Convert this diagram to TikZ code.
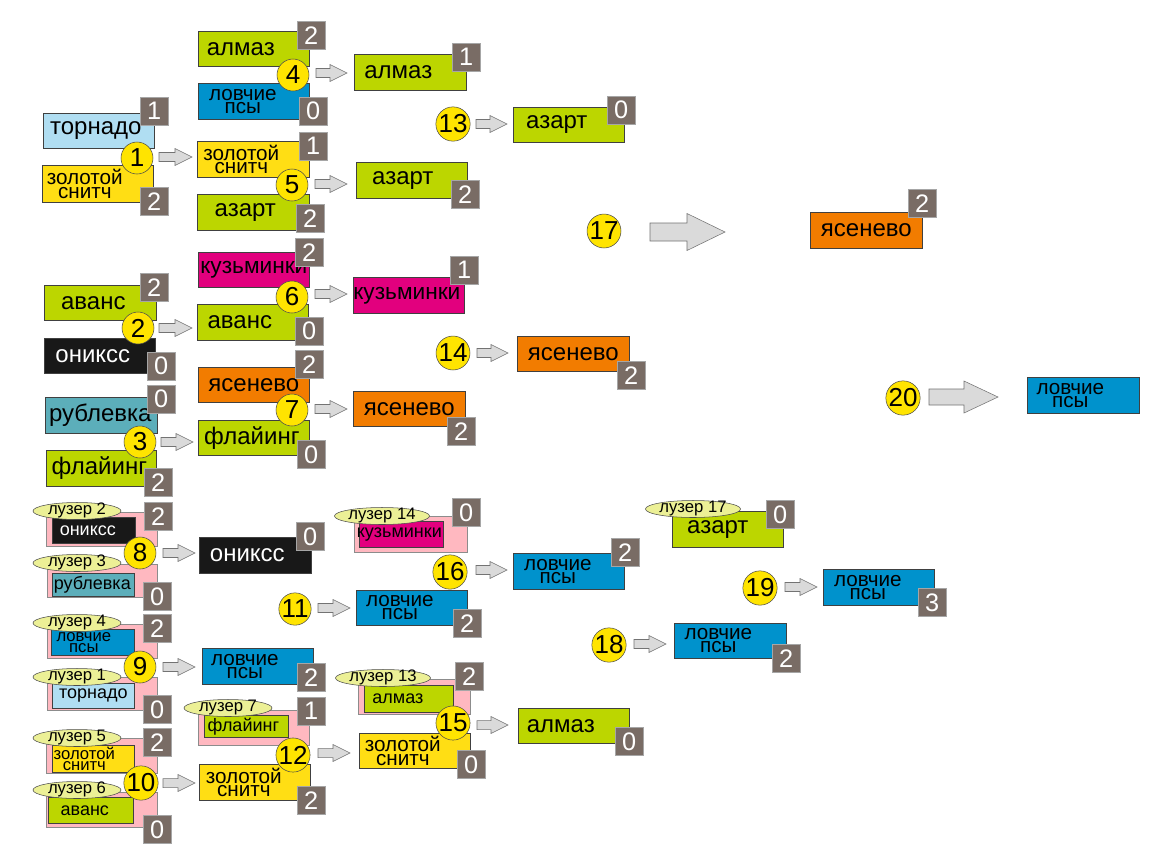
\documentclass[tikz,border=0pt]{standalone}
\usepackage{fontspec}
\setmainfont{Liberation Sans}
\usetikzlibrary{shapes.geometric}
\definecolor{cgreen}{RGB}{188,214,0}
\definecolor{cblue}{RGB}{0,146,204}
\definecolor{clblue}{RGB}{176,222,242}
\definecolor{cyel}{RGB}{255,222,20}
\definecolor{cmag}{RGB}{226,0,126}
\definecolor{corange}{RGB}{242,124,0}
\definecolor{cblack}{RGB}{24,24,24}
\definecolor{cteal}{RGB}{92,174,186}
\definecolor{cscore}{RGB}{121,108,101}
\definecolor{cpink}{RGB}{255,184,192}
\definecolor{cellip}{RGB}{236,240,150}
\definecolor{ccirc}{RGB}{255,228,0}
\definecolor{carrow}{RGB}{218,218,218}
\newcommand\fbig{\fontsize{18}{18}\selectfont}
\newcommand\fmid{\fontsize{17}{17}\selectfont}
\newcommand\ftwo{\fontsize{15.5}{15.5}\selectfont}
\newcommand\fnum{\fontsize{19.5}{19.5}\selectfont}
\newcommand\fsc{\fontsize{19}{19}\selectfont}
\newcommand\fsm{\fontsize{13.5}{13.5}\selectfont}
\newcommand\fsmtwo{\fontsize{12.5}{12.5}\selectfont}
\newcommand\flz{\fontsize{12.5}{12.5}\selectfont}
% two stacked lines with a fixed, tight baseline distance
\newcommand\stk[3]{\vbox{\baselineskip=#1\lineskiplimit=-30pt\lineskip=0pt\halign{\hfil##\hfil\cr#2\cr#3\cr}}}
\newcommand\two[2]{\stk{10pt}{#1}{#2}}
\newcommand\twosm[2]{\stk{8pt}{#1}{#2}}
\tikzset{
 tm/.style={draw=black!75, line width=0.5pt, inner sep=0pt, anchor=north west, font=\fbig},
 tmtwo/.style={font=\ftwo},
 tmmid/.style={font=\fmid},
 sm/.style={font=\fsm},
 smtwo/.style={font=\fsmtwo},
 sh/.style={execute at begin node={\kern-\dimexpr #1pt*3/2\relax}},
 sc/.style={fill=cscore, draw=black!35, line width=0.4pt, text=white, minimum size=21pt, inner sep=0pt, anchor=north west, font=\fsc},
 nm/.style={circle, fill=ccirc, draw=black!70, line width=0.4pt, minimum size=24pt, inner sep=0pt, font=\fnum},
 lz/.style={ellipse, fill=cellip, draw=black!70, line width=0.4pt, minimum width=66pt, minimum height=12.75pt, inner sep=0pt, text height=6.5pt, text depth=2pt, font=\flz},
 pk/.style={fill=cpink, draw=black!45, line width=0.4pt, inner sep=0pt, anchor=north west},
 ar/.style={fill=carrow, draw=black!55, line width=0.4pt},
}
\newcommand\tbox[7]{\node[tm,#6,minimum width={(#4-#2)*0.75pt},minimum height={(#5-#3)*0.75pt}] (#1) at (#2,#3) {#7};}
\newcommand\pinkbg[5]{\node[pk,minimum width={(#4-#2)*0.75pt},minimum height={(#5-#3)*0.75pt}] (#1) at (#2,#3) {};}
\newcommand\scr[4]{\node[sc] (#1) at (#2,#3) {#4};}
\newcommand\rnd[4]{\node[nm] (#1) at (#2,#3) {#4};}
\newcommand\lzr[4]{\node[lz] (#1) at (#2,#3) {#4};}
\newcommand\sarr[4]{\draw[ar] (#2,#4-4.5) -- (#3-17,#4-4.5) -- (#3-17,#4-8.5) -- (#3,#4) -- (#3-17,#4+8.5) -- (#3-17,#4+4.5) -- (#2,#4+4.5) -- cycle; \coordinate (#1) at (#3,#4);}
\newcommand\barr[7]{\draw[ar] (#2,#4-#5) -- (#3-#7,#4-#5) -- (#3-#7,#4-#6) -- (#3,#4) -- (#3-#7,#4+#6) -- (#3-#7,#4+#5) -- (#2,#4+#5) -- cycle; \coordinate (#1) at (#3,#4);}
\begin{document}
\begin{tikzpicture}[x=0.75pt,y=-0.75pt]
\path[fill=white, use as bounding box] (0,0) rectangle (1159,865);
% pink loser backgrounds
\pinkbg{p2}{46}{512}{157}{546}
\pinkbg{p3}{47}{564}{157}{597}
\pinkbg{p4}{47}{624}{157}{658}
\pinkbg{p1}{47}{677}{157}{710}
\pinkbg{p5}{46}{738}{157}{773}
\pinkbg{p6}{46}{792}{157}{827}
\pinkbg{p7}{198}{710}{309}{745}
\pinkbg{p14}{354}{516}{467}{552}
\pinkbg{p13}{358}{679}{470}{714}
% round 1
\tbox{a1}{43}{113}{154}{148}{fill=clblue,sh=3}{торнадо}
\tbox{a2}{42}{165}{153}{202}{fill=cyel,tmtwo,sh=13}{\two{золотой}{снитч}}
\tbox{a3}{44}{285}{156}{320}{fill=cgreen,sh=7}{аванс}
\tbox{a4}{44}{338}{155}{373}{fill=cblack,text=white,sh=7}{ониксс}
\tbox{a5}{45}{397}{157}{433}{fill=cteal,sh=1}{рублевка}
\tbox{a6}{46}{450}{156}{486}{fill=cgreen,sh=2}{флайинг}
% round 2
\tbox{b1}{198}{31}{309}{66}{fill=cgreen,sh=13}{алмаз}
\tbox{b2}{198}{83}{309}{119}{fill=cblue,tmtwo,sh=11}{\two{ловчие}{псы}}
\tbox{b3}{197}{141}{309}{177}{fill=cyel,tmtwo,sh=12}{\two{золотой}{снитч}}
\tbox{b4}{197}{194}{309}{230}{fill=cgreen,sh=8}{азарт}
\tbox{b5}{198}{252}{309}{287}{fill=cmag,tmmid,sh=0}{кузьминки}
\tbox{b6}{197}{304}{308}{340}{fill=cgreen,sh=13}{аванс}
\tbox{b7}{198}{367}{309}{402}{fill=corange,sh=0}{ясенево}
\tbox{b8}{198}{420}{309}{455}{fill=cgreen,sh=2}{флайинг}
% round 3
\tbox{d1}{354}{54}{466}{90}{fill=cgreen,sh=12}{алмаз}
\tbox{d2}{356}{162}{467}{198}{fill=cgreen,sh=9}{азарт}
\tbox{d3}{353}{277}{464}{313}{fill=cmag,tmmid,sh=2}{кузьминки}
\tbox{d4}{353}{391}{465}{426}{fill=corange,sh=0}{ясенево}
% round 4 and final
\tbox{e1}{513}{107}{624}{142}{fill=cgreen,sh=12}{азарт}
\tbox{e2}{517}{336}{629}{371}{fill=corange,sh=0}{ясенево}
\tbox{f1}{810}{212}{922}{248}{fill=corange,sh=0}{ясенево}
\tbox{f2}{1027}{377}{1139}{413}{fill=cblue,tmtwo,sh=13}{\two{ловчие}{псы}}
% loser bracket
\tbox{g1}{199}{537}{311}{573}{fill=cblack,text=white,sh=8}{ониксс}
\tbox{g2}{202}{648}{313}{684}{fill=cblue,tmtwo,sh=13}{\two{ловчие}{псы}}
\tbox{g3}{199}{764}{310}{800}{fill=cyel,tmtwo,sh=11}{\two{золотой}{снитч}}
\tbox{h1}{356}{590}{467}{625}{fill=cblue,tmtwo,sh=12}{\two{ловчие}{псы}}
\tbox{h2}{359}{733}{470}{768}{fill=cyel,tmtwo,sh=12}{\two{золотой}{снитч}}
\tbox{i1}{513}{553}{624}{589}{fill=cblue,tmtwo,sh=11}{\two{ловчие}{псы}}
\tbox{i2}{518}{708}{629}{743}{fill=cgreen,sh=13}{алмаз}
\tbox{l17}{672}{511}{783}{547}{fill=cgreen,sh=10}{азарт}
\tbox{j1}{674}{623}{786}{658}{fill=cblue,tmtwo,sh=12}{\two{ловчие}{псы}}
\tbox{k1}{823}{569}{934}{605}{fill=cblue,tmtwo,sh=11}{\two{ловчие}{псы}}
% small inner boxes
\tbox{q2}{52}{517}{135}{543}{fill=cblack,text=white,sm,sh=6}{ониксс}
\tbox{q3}{52}{573}{134}{596}{fill=cteal,sm,sh=1}{рублевка}
\tbox{q4}{51}{629}{134}{655}{fill=cblue,smtwo,sh=9}{\twosm{ловчие}{псы}}
\tbox{q1}{52}{683}{134}{708}{fill=clblue,sm,sh=0}{торнадо}
\tbox{q5}{52}{745}{134}{772}{fill=cyel,smtwo,sh=9}{\twosm{золотой}{снитч}}
\tbox{q6}{48}{797}{133}{823}{fill=cgreen,sm,sh=6}{аванс}
\tbox{q7}{204}{715}{288}{737}{fill=cgreen,sm,sh=3}{флайинг}
\tbox{q14}{359}{521}{443}{547}{fill=cmag,sm,sh=2}{кузьминки}
\tbox{q13}{364}{685}{453}{712}{fill=cgreen,sm,sh=11}{алмаз}
% loser ellipses
\lzr{z2}{77}{511}{лузер 2}
\lzr{z3}{77}{563}{лузер 3}
\lzr{z4}{77}{623}{лузер 4}
\lzr{z1}{77}{677}{лузер 1}
\lzr{z5}{77}{738}{лузер 5}
\lzr{z6}{77}{790}{лузер 6}
\lzr{z7}{228}{708}{лузер 7}
\lzr{z14}{382}{516}{лузер 14}
\lzr{z13}{383}{678}{лузер 13}
\lzr{z17}{693}{509}{лузер 17}
% scores
\scr{sa1}{140}{97}{1}
\scr{sa2}{140}{187}{2}
\scr{sa3}{140}{273}{2}
\scr{sa4}{147}{352}{0}
\scr{sa5}{147}{385}{0}
\scr{sa6}{144}{468}{2}
\scr{sb1}{297}{21}{2}
\scr{sb2}{299}{97}{0}
\scr{sb3}{299}{132}{1}
\scr{sb4}{296}{204}{2}
\scr{sb5}{295}{238}{2}
\scr{sb6}{295}{317}{0}
\scr{sb7}{295}{350}{2}
\scr{sb8}{297}{440}{0}
\scr{sd1}{452}{43}{1}
\scr{sd2}{451}{180}{2}
\scr{sd3}{450}{256}{1}
\scr{sd4}{447}{417}{2}
\scr{se1}{607}{96}{0}
\scr{se2}{617}{361}{2}
\scr{sf1}{908}{189}{2}
\scr{sl2}{144}{502}{2}
\scr{sl3}{143}{582}{0}
\scr{sg1}{296}{522}{0}
\scr{sl4}{143}{614}{2}
\scr{sl1}{143}{695}{0}
\scr{sg2}{297}{663}{2}
\scr{sl5}{143}{728}{2}
\scr{sl6}{143}{815}{0}
\scr{sg3}{297}{786}{2}
\scr{sh1}{453}{609}{2}
\scr{sl7}{297}{697}{1}
\scr{sh2}{457}{750}{0}
\scr{sl14}{452}{498}{0}
\scr{si1}{611}{538}{2}
\scr{sl13}{455}{662}{2}
\scr{si2}{615}{727}{0}
\scr{sl17}{766}{500}{0}
\scr{sj1}{772}{644}{2}
\scr{sk1}{918}{588}{3}
% match numbers
\rnd{c1}{137}{158}{1}
\rnd{c2}{138}{328}{2}
\rnd{c3}{140}{442}{3}
\rnd{c4}{293}{75}{4}
\rnd{c5}{292}{185}{5}
\rnd{c6}{292}{297}{6}
\rnd{c7}{292}{410}{7}
\rnd{c8}{140}{553}{8}
\rnd{c9}{140}{667}{9}
\rnd{c10}{141}{783}{10}
\rnd{c11}{295}{609}{11}
\rnd{c12}{293}{755}{12}
\rnd{c13}{453}{124}{13}
\rnd{c14}{453}{353}{14}
\rnd{c15}{453}{723}{15}
\rnd{c16}{450}{572}{16}
\rnd{c17}{604}{231}{17}
\rnd{c18}{609}{645}{18}
\rnd{c19}{760}{588}{19}
\rnd{c20}{903}{398}{20}
% arrows
\sarr{r1}{159}{192}{157}
\sarr{r2}{159}{192}{328}
\sarr{r3}{161}{193}{442}
\sarr{r4}{316}{347}{73}
\sarr{r5}{315}{347}{184}
\sarr{r6}{315}{347}{294}
\sarr{r7}{315}{347}{409}
\sarr{r8}{163}{195}{553}
\sarr{r9}{163}{195}{667}
\sarr{r10}{163}{195}{783}
\sarr{r11}{318}{350}{608}
\sarr{r12}{318}{350}{753}
\sarr{r13}{476}{507}{124}
\sarr{r14}{477}{508}{353}
\sarr{r15}{477}{508}{725}
\sarr{r16}{476}{507}{570}
\sarr{r18}{634}{666}{644}
\sarr{r19}{785}{817}{587}
\barr{r17}{650}{725}{232}{9}{18.5}{38}
\barr{r20}{929}{998}{397}{8}{16}{34}
\end{tikzpicture}
\end{document}
